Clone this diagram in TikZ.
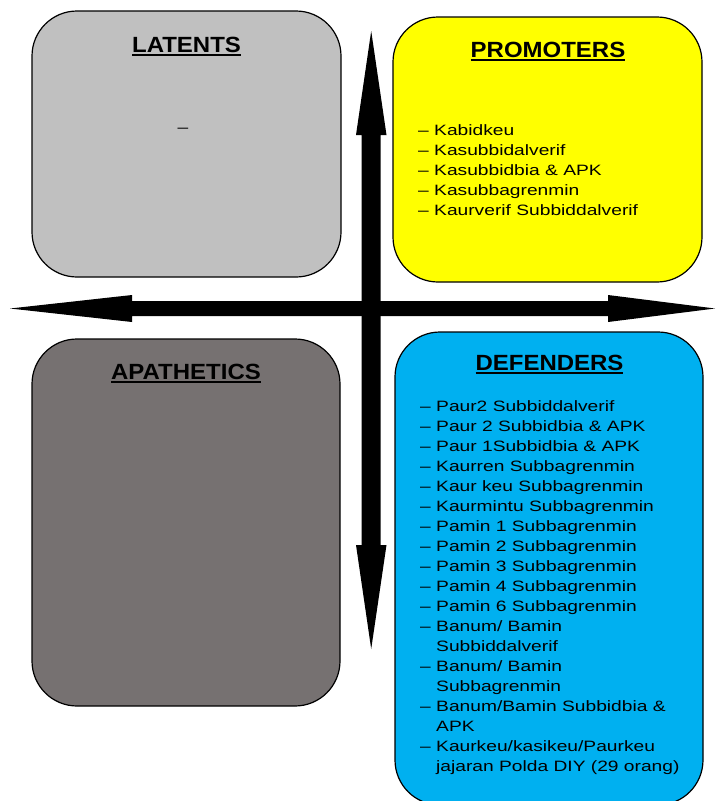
\documentclass[tikz,border=0pt]{standalone}
\usepackage{fontspec}
\setmainfont{Liberation Sans}
\newfontfamily\bodyf[FakeStretch=1.28]{Liberation Sans}
\newfontfamily\titlef[FakeStretch=1.09]{Liberation Sans}
\newcommand\ttlul[1]{\setbox0\hbox{#1}\rlap{\copy0}\rule[-3.6pt]{\wd0}{2pt}}
\newcommand\dsh{\makebox[16pt][l]{–}}
\newcommand\ind{\hspace*{16pt}}
\definecolor{latgray}{HTML}{C0C0C0}
\definecolor{apagray}{HTML}{767171}
\definecolor{promyel}{HTML}{FFFF00}
\definecolor{defblue}{HTML}{00B0F0}
\begin{document}
\begin{tikzpicture}[x=1pt,y=-1pt,
  quad/.style={draw=black, line width=1.2pt, rounded corners=45pt, inner sep=0pt},
  titletxt/.style={anchor=base, inner sep=0pt, font=\fontsize{22}{26}\selectfont\titlef\bfseries},
  bodytxt/.style={anchor=base west, inner sep=0pt, align=left, font=\fontsize{15}{20}\selectfont\bodyf},
  axis/.style={fill=black}]
\useasboundingbox (0,0) rectangle (716,801);
% quadrant boxes
\node[quad, fill=latgray, minimum width=309pt, minimum height=266pt] (lat) at (186.5,144) {};
\node[quad, fill=promyel, minimum width=309pt, minimum height=265pt] (pro) at (547.5,149.5) {};
\node[quad, fill=apagray, minimum width=308pt, minimum height=367pt] (apa) at (186,522.5) {};
\node[quad, fill=defblue, minimum width=308pt, minimum height=473pt] (def) at (549,568.5) {};
% titles
\node[titletxt] (latT) at (186.5,52) {\ttlul{LATENTS}};
\node[titletxt] (proT) at (548,57) {\ttlul{PROMOTERS}};
\node[titletxt] (apaT) at (186,379) {\ttlul{APATHETICS}};
\node[titletxt] (defT) at (549.5,370) {\ttlul{DEFENDERS}};
% contents
\node[anchor=base, inner sep=0pt, font=\fontsize{15}{20}\selectfont\bodyf] (latB) at (183,132) {–};
\node[bodytxt] (proB) at (418,215) {\dsh Kabidkeu\\ \dsh Kasubbidalverif\\ \dsh Kasubbidbia \& APK\\ \dsh Kasubbagrenmin\\ \dsh Kaurverif Subbiddalverif};
\node[bodytxt] (defB) at (420,771) {\dsh Paur2 Subbiddalverif\\ \dsh Paur 2 Subbidbia \& APK\\ \dsh Paur 1Subbidbia \& APK\\ \dsh Kaurren Subbagrenmin\\ \dsh Kaur keu Subbagrenmin\\ \dsh Kaurmintu Subbagrenmin\\ \dsh Pamin 1 Subbagrenmin\\ \dsh Pamin 2 Subbagrenmin\\ \dsh Pamin 3 Subbagrenmin\\ \dsh Pamin 4 Subbagrenmin\\ \dsh Pamin 6 Subbagrenmin\\ \dsh Banum/ Bamin\\ \ind Subbiddalverif\\ \dsh Banum/ Bamin\\ \ind Subbagrenmin\\ \dsh Banum/Bamin Subbidbia \&\\ \ind APK\\ \dsh Kaurkeu/kasikeu/Paurkeu\\ \ind jajaran Polda DIY (29 orang)};
% axes (double-headed arrows)
\fill[axis] (10,308.5) -- (132,295) -- (132,301) -- (608,301) -- (608,295) -- (715,308.5) -- (608,322) -- (608,316) -- (132,316) -- (132,322) -- cycle;
\fill[axis] (371.2,31) -- (386.5,135) -- (380.7,135) -- (380.7,545) -- (386.5,545) -- (371.2,649) -- (356,545) -- (361.7,545) -- (361.7,135) -- (356,135) -- cycle;
\end{tikzpicture}
\end{document}
